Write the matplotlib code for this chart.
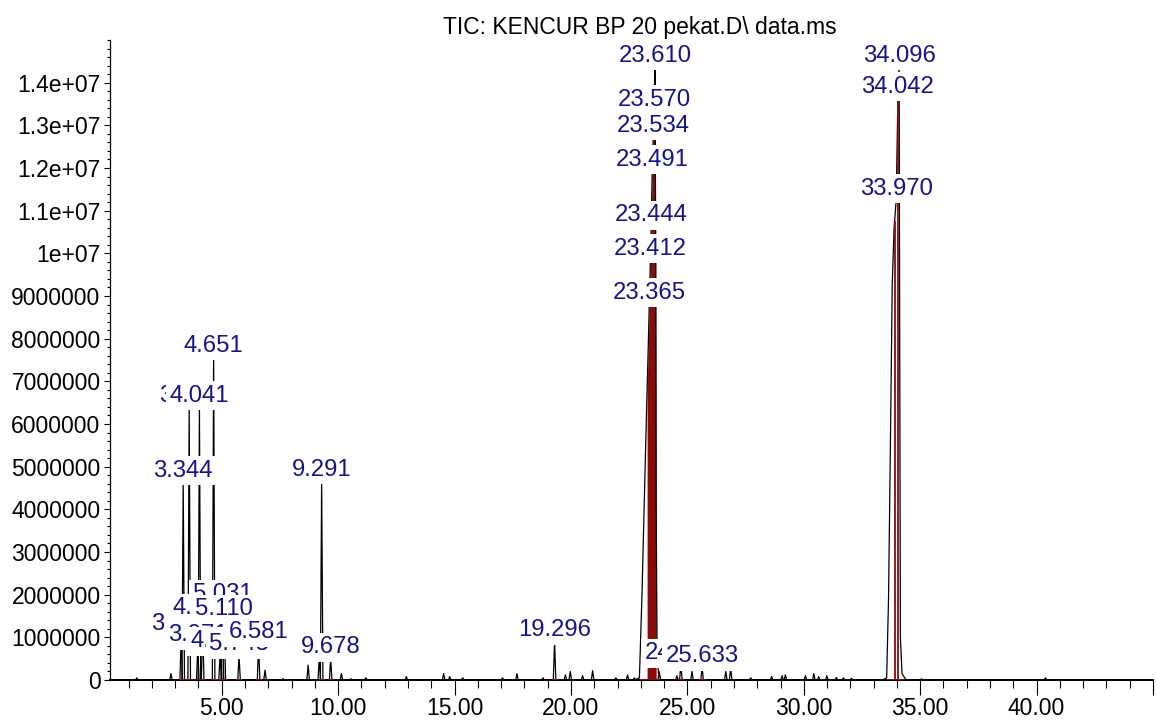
import numpy as np
import matplotlib.pyplot as plt
from matplotlib.ticker import MultipleLocator, FuncFormatter

plt.rcParams['font.family'] = ['Liberation Sans', 'DejaVu Sans']

# narrow peaks: retention time (min), abundance, label ('' = unlabelled)
peak_rt = [1.35, 2.82, 3.258, 3.344, 3.602, 3.971, 4.041, 4.180, 4.651, 4.930,
           5.031, 5.110, 5.743, 6.581, 6.86, 7.63, 8.71, 9.19, 9.291, 9.678,
           10.14, 10.55, 11.19, 12.93, 14.53, 14.79, 15.35, 17.06, 17.68, 18.80,
           19.296, 19.76, 19.97, 20.50, 20.93, 21.93, 22.43, 22.72, 23.79, 24.55,
           24.720, 25.20, 25.633, 26.65, 26.86, 27.72, 28.62, 29.07, 29.21, 30.07,
           30.43, 30.64, 30.99, 31.40, 31.70, 32.05, 35.06, 40.38]
peak_height = [0.05e6, 0.15e6, 1.04e6, 4.64e6, 6.40e6, 0.78e6, 6.40e6, 1.41e6, 7.57e6, 0.64e6,
               1.74e6, 1.39e6, 0.57e6, 0.85e6, 0.23e6, 0.03e6, 0.35e6, 0.55e6, 4.66e6, 0.50e6,
               0.15e6, 0.03e6, 0.05e6, 0.08e6, 0.15e6, 0.08e6, 0.05e6, 0.05e6, 0.15e6, 0.05e6,
               0.90e6, 0.12e6, 0.20e6, 0.10e6, 0.22e6, 0.05e6, 0.12e6, 0.05e6, 0.20e6, 0.10e6,
               0.36e6, 0.20e6, 0.29e6, 0.20e6, 0.27e6, 0.05e6, 0.08e6, 0.10e6, 0.12e6, 0.10e6,
               0.15e6, 0.08e6, 0.10e6, 0.06e6, 0.05e6, 0.04e6, 0.03e6, 0.05e6]
peak_label = ['', '', '3.258', '3.344', '3.602', '3.971', '4.041', '4.180', '4.651', '4.930',
              '5.031', '5.110', '5.743', '6.581', '', '', '', '', '9.291', '9.678',
              '', '', '', '', '', '', '', '', '', '',
              '19.296', '', '', '', '', '', '', '', '', '',
              '24.720', '', '25.633', '', '', '', '', '', '', '',
              '', '', '', '', '', '', '', '']

# big peak around 23.5 min
main_t = [22.80, 22.94, 23.05, 23.15, 23.25, 23.27, 23.30, 23.365, 23.412, 23.444, 23.491,
          23.534, 23.570, 23.610, 23.64, 23.66, 23.70, 23.76, 23.85]
main_i = [0.02e6, 0.05e6, 2.0e6, 4.2e6, 6.4e6, 6.8e6, 7.4e6, 8.81e6, 9.84e6, 10.62e6, 11.93e6,
          12.72e6, 13.33e6, 14.36e6, 10.0e6, 4.0e6, 0.6e6, 0.15e6, 0.05e6]
main_label = ['', '', '', '', '', '', '', '23.365', '23.412', '23.444', '23.491',
              '23.534', '23.570', '23.610', '', '', '', '', '']

# big peak around 34 min
late_t = [33.45, 33.56, 33.64, 33.72, 33.80, 33.88, 33.970, 34.042, 34.096,
          34.12, 34.15, 34.22, 34.36]
late_i = [0.02e6, 0.05e6, 1.9e6, 5.5e6, 9.3e6, 10.6e6, 11.25e6, 13.64e6, 14.36e6,
          8.0e6, 1.0e6, 0.15e6, 0.03e6]
late_label = ['', '', '', '', '', '', '33.970', '34.042', '34.096', '', '', '', '']

red = '#8c0a0a'
navy = '#141488'

fig = plt.figure(figsize=(11.56, 7.2), dpi=100)
ax = fig.add_axes([110 / 1156, 40 / 720, 1043 / 1156, 640 / 720])

# narrow peaks drawn as thin spikes
w = 0.055
for t, h in zip(peak_rt, peak_height):
    ax.plot([t - w, t, t + w], [0, h, 0], color='black', lw=0.9, zorder=2)

# integration marks
main_t = np.array(main_t)
main_i = np.array(main_i)
sel = (main_t >= 23.27) & (main_t <= 23.66)
ax.fill_between(main_t[sel], main_i[sel], color=red, lw=0, zorder=1.5)
ax.plot(main_t, main_i, color='black', lw=0.9, zorder=2)
ax.plot(late_t, late_i, color='black', lw=0.9, zorder=2)
for t in [33.90, 34.04]:
    ax.plot([t, t], [0, np.interp(t, late_t, late_i)], color=red, lw=1.3, zorder=2.5)

for t, lab in zip(peak_rt, peak_label):
    if lab:
        ax.plot([t - 0.07, t + 0.07], [0, 0], color=red, lw=2.2, zorder=4)
ax.plot([23.0, 23.75], [0, 0], color=red, lw=2.2, zorder=4)
ax.plot([33.6, 34.25], [0, 0], color=red, lw=2.2, zorder=4)

# labels, later ones overlap earlier ones
labels = []
for t, h, lab in zip(peak_rt, peak_height, peak_label):
    if lab:
        labels.append((t, h, lab))
for t, h, lab in zip(main_t, main_i, main_label):
    if lab:
        labels.append((t, h, lab))
for t, h, lab in zip(late_t, late_i, late_label):
    if lab:
        labels.append((t, h, lab))
labels.sort(key=lambda r: r[0])
for i, (t, h, lab) in enumerate(labels):
    ax.annotate(lab, xy=(t, h), xytext=(0, 0.3), textcoords='offset points',
                ha='center', va='bottom', color=navy, fontsize=17.2,
                bbox=dict(fc='white', ec='none', pad=2.5), zorder=10 + i)

ax.set_xlim(0.2, 45.0)
ax.set_ylim(0, 1.5e7)

ax.set_xticks(np.arange(5, 46, 5))
ax.set_xticklabels([f'{v:.2f}' for v in np.arange(5, 41, 5)] + [''])
ax.xaxis.set_minor_locator(MultipleLocator(1))
ax.set_yticks(np.arange(0, 1.41e7, 1e6))
ax.yaxis.set_major_formatter(FuncFormatter(lambda v, p: f'{v:.7g}'))
ax.yaxis.set_minor_locator(MultipleLocator(2e5))

ax.tick_params(axis='x', which='major', direction='out', length=10.8, width=0.8,
               labelsize=16.5, pad=1.5)
ax.tick_params(axis='x', which='minor', direction='out', length=5.8, width=0.8)
ax.tick_params(axis='y', which='major', direction='out', length=4.3, width=0.8,
               labelsize=16.5, pad=2.5)
ax.tick_params(axis='y', which='minor', direction='out', length=2.4, width=0.8)

for s in ['top', 'right']:
    ax.spines[s].set_visible(False)
ax.spines['left'].set_linewidth(0.9)
ax.spines['bottom'].set_linewidth(1.4)
ax.spines['bottom'].set_zorder(3)

fig.text(640 / 1156, 1 - 34 / 720, 'TIC: KENCUR BP 20 pekat.D\\ data.ms',
         ha='center', va='baseline', fontsize=16.5)

fig.savefig('out.png', dpi=100)
